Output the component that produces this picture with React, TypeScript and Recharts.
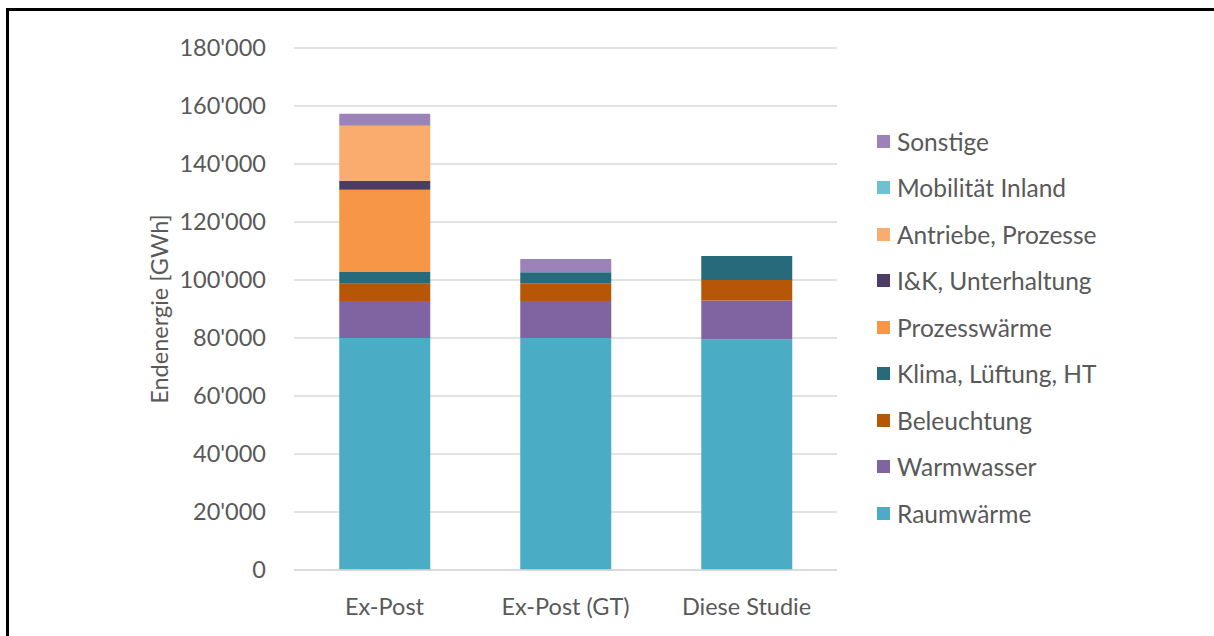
import React from "react"
import {
  BarChart,
  Bar,
  XAxis,
  YAxis,
  CartesianGrid,
} from "recharts"

// Kategorien (x-Achse)
const categories = ["Ex-Post", "Ex-Post (GT)", "Diese Studie"]

// Endenergie in GWh je Verwendungszweck
const raumwaerme = [80000, 80000, 79600]
const warmwasser = [12800, 12800, 13300]
const beleuchtung = [5900, 6100, 7100]
const klima = [4100, 3800, 8300]
const prozesswaerme = [28300, 0, 0]
const iuk = [3100, 0, 0]
const antriebe = [19000, 0, 0]
const mobilitaet = [0, 0, 0]
const sonstige = [4100, 4500, 0]

const yTicks = [0, 20000, 40000, 60000, 80000, 100000, 120000, 140000, 160000, 180000]

const series = [
  { key: "raumwaerme", name: "Raumwärme", values: raumwaerme, color: "#4BACC6" },
  { key: "warmwasser", name: "Warmwasser", values: warmwasser, color: "#8064A2" },
  { key: "beleuchtung", name: "Beleuchtung", values: beleuchtung, color: "#B65708" },
  { key: "klima", name: "Klima, Lüftung, HT", values: klima, color: "#276A7C" },
  { key: "prozesswaerme", name: "Prozesswärme", values: prozesswaerme, color: "#F79646" },
  { key: "iuk", name: "I&K, Unterhaltung", values: iuk, color: "#4F3B67" },
  { key: "antriebe", name: "Antriebe, Prozesse", values: antriebe, color: "#F9AC6E" },
  { key: "mobilitaet", name: "Mobilität Inland", values: mobilitaet, color: "#6EC0D4" },
  { key: "sonstige", name: "Sonstige", values: sonstige, color: "#9B83B9" },
]

const data = categories.map((c, i) => {
  const row: Record<string, string | number> = { category: c }
  series.forEach((s) => {
    row[s.key] = s.values[i]
  })
  return row
})

const FONT = "Lato, 'Open Sans', sans-serif"
const TEXT = "#595959"

const fmt = (v: number) => {
  const s = String(v)
  return s.length > 3 ? s.slice(0, -3) + "'" + s.slice(-3) : s
}

function LegendList() {
  const items = [...series].reverse()
  return (
    <div style={{ position: "absolute", left: 877, top: 118, fontFamily: FONT }}>
      {items.map((it) => (
        <div
          key={it.key}
          style={{
            display: "flex",
            alignItems: "center",
            height: 46.5,
            color: TEXT,
            fontSize: 24.5,
            whiteSpace: "nowrap",
          }}
        >
          <span
            style={{
              display: "inline-block",
              width: 13,
              height: 13,
              background: it.color,
              marginRight: 7,
            }}
          />
          {it.name}
        </div>
      ))}
    </div>
  )
}

export default function App() {
  return (
    <div style={{ position: "absolute", left: 0, top: 0, width: 1214, height: 636, background: "#fff", overflow: "hidden" }}>
      <div
        style={{
          position: "absolute",
          left: 6,
          top: 8,
          width: 1214,
          height: 636,
          borderTop: "3px solid #000",
          borderLeft: "3px solid #000",
        }}
      />
      <div style={{ position: "absolute", left: 0, top: 0 }}>
        <BarChart
          width={1214}
          height={636}
          data={data}
          margin={{ top: 48, right: 377, bottom: 36, left: 154 }}
          barCategoryGap="25%"
        >
          <CartesianGrid vertical={false} stroke="#D9D9D9" strokeWidth={1.5} />
          <XAxis
            dataKey="category"
            height={30}
            axisLine={{ stroke: "#D9D9D9", strokeWidth: 1.5 }}
            tickLine={false}
            interval={0}
            tick={{ fill: TEXT, fontSize: 23.5, fontFamily: FONT }}
            tickMargin={22}
          />
          <YAxis
            width={140}
            domain={[0, 180000]}
            ticks={yTicks}
            tickFormatter={fmt}
            axisLine={false}
            tickLine={false}
            tickMargin={22}
            tick={{ fill: TEXT, fontSize: 23.5, fontFamily: FONT }}
            label={{
              value: "Endenergie [GWh]",
              angle: -90,
              position: "insideLeft",
              offset: 6,
              style: { fill: TEXT, fontSize: 23.5, fontFamily: FONT, textAnchor: "middle" },
            }}
          />
          {series.map((s) => (
            <Bar
              key={s.key}
              dataKey={s.key}
              name={s.name}
              stackId="a"
              fill={s.color}
              isAnimationActive={false}
            />
          ))}
        </BarChart>
      </div>
      <LegendList />
    </div>
  )
}
